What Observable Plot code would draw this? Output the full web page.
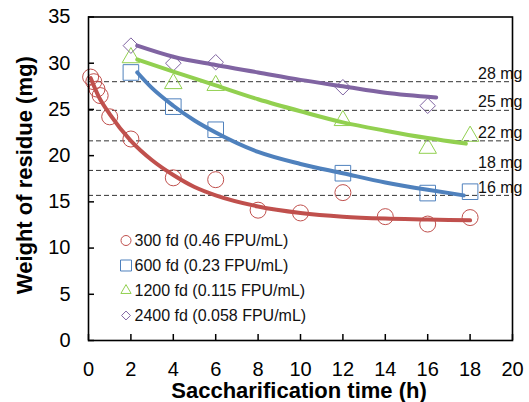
<!DOCTYPE html>
<html><head><meta charset="utf-8">
<script src="https://cdn.jsdelivr.net/npm/d3@7"></script>
<script src="https://cdn.jsdelivr.net/npm/@observablehq/plot@0.6"></script>
<style>body{margin:0;background:#fff}</style>
</head><body><div id="chart"></div>
<script>
// ---- data ----
const seriesNames = ["300 fd (0.46 FPU/mL)", "600 fd (0.23 FPU/mL)", "1200 fd (0.115 FPU/mL)", "2400 fd (0.058 FPU/mL)"];
const seriesColors = ["#C0504D", "#4F81BD", "#92D050", "#8064A2"];
const seriesSymbols = ["circle", "square", "triangle", "diamond2"];

// measured points
const time300 = [0.1, 0.25, 0.4, 0.55, 1, 2, 4, 6, 8, 10, 12, 14, 16, 18];
const residue300 = [28.5, 28.0, 27.2, 26.5, 24.2, 21.8, 17.6, 17.4, 14.1, 13.8, 16.0, 13.4, 12.6, 13.3];
const time600 = [2, 4, 6, 12, 16, 18];
const residue600 = [29.0, 25.3, 22.8, 18.1, 15.95, 16.1];
const time1200 = [2, 4, 6, 12, 16, 18];
const residue1200 = [30.6, 27.8, 27.6, 23.8, 20.8, 22.1];
const time2400 = [2, 4, 6, 12, 16];
const residue2400 = [31.9, 30.0, 30.1, 27.4, 25.4];

// fitted curves
const fitTime300 = [0.1, 0.5, 1, 2, 3, 4, 5, 6, 8, 10, 12, 14, 16, 18];
const fitResidue300 = [28.4, 26.3, 24.5, 21.6, 19.5, 17.9, 16.6, 15.7, 14.5, 13.8, 13.4, 13.2, 13.1, 13.0];
const fitTime600 = [2.3, 3, 4, 5, 6, 8, 10, 12, 14, 16, 17.7];
const fitResidue600 = [29.0, 27.3, 25.4, 23.8, 22.5, 20.4, 19.1, 18.1, 17.1, 16.3, 15.7];
const fitTime1200 = [2.3, 4, 6, 8, 10, 12, 14, 16, 17.8];
const fitResidue1200 = [30.4, 29.1, 27.6, 26.1, 24.8, 23.6, 22.7, 21.9, 21.3];
const fitTime2400 = [2.3, 4, 6, 8, 10, 12, 14, 16.4];
const fitResidue2400 = [31.9, 30.7, 29.8, 29.0, 28.2, 27.5, 26.8, 26.3];

// reference lines
const refValues = [28, 24.9, 21.6, 18.4, 15.7];
const refLabels = ["28 mg", "25 mg", "22 mg", "18 mg", "16 mg"];

const xTicks = [0, 2, 4, 6, 8, 10, 12, 14, 16, 18, 20];
const yTicks = [0, 5, 10, 15, 20, 25, 30, 35];
const xTitle = "Saccharification time (h)";
const yTitle = "Weight of residue (mg)";

// ---- build ----
const times = [time300, time600, time1200, time2400];
const residues = [residue300, residue600, residue1200, residue2400];
const fitTimes = [fitTime300, fitTime600, fitTime1200, fitTime2400];
const fitResidues = [fitResidue300, fitResidue600, fitResidue1200, fitResidue2400];
const markerR = [8, 8.8, 6.5, 7];
const legendR = [5, 6.2, 3.8, 4];

const W = 529, H = 402, mL = 88, mR = 17, mT = 16.5, mB = 62;
const innerW = W - mL - mR, innerH = H - mT - mB;

const marks = [];
marks.push(Plot.ruleY(refValues, {y: d => d, stroke: "#333", strokeWidth: 1, strokeDasharray: "5,3"}));
marks.push(Plot.text(refValues, {y: d => d, text: (d, i) => refLabels[i], frameAnchor: "right", textAnchor: "end", lineAnchor: "middle", dx: 10, dy: -8, fontSize: 16, fill: "#111"}));

seriesNames.forEach((name, s) => {
  const pts = times[s].map((t, i) => ({time: t, residue: residues[s][i]}));
  marks.push(Plot.dot(pts, {x: "time", y: "residue", symbol: seriesSymbols[s], r: markerR[s], stroke: seriesColors[s], strokeWidth: 1, fill: "none"}));
});
seriesNames.forEach((name, s) => {
  const fit = fitTimes[s].map((t, i) => ({time: t, residue: fitResidues[s][i]}));
  marks.push(Plot.line(fit, {x: "time", y: "residue", stroke: seriesColors[s], strokeWidth: 4, curve: "monotone-x", strokeLinecap: "round"}));
});

// legend inside the plot
seriesNames.forEach((name, s) => {
  marks.push(Plot.dot([name], {frameAnchor: "top-left", dx: 37.5, dy: 223.5 + 25 * s, symbol: seriesSymbols[s], r: legendR[s], stroke: seriesColors[s], strokeWidth: 1, fill: "none"}));
  marks.push(Plot.text([name], {text: d => d, frameAnchor: "top-left", dx: 46, dy: 224 + 25 * s, textAnchor: "start", lineAnchor: "middle", fontSize: 16, fill: "#111"}));
});

// frame, inward ticks, axes
marks.push(Plot.frame({stroke: "black", strokeWidth: 1.6}));
marks.push(Plot.tickY(yTicks, {y: d => d, stroke: "black", strokeWidth: 1.5, insetRight: innerW - 6}));
marks.push(Plot.tickX(xTicks, {x: d => d, stroke: "black", strokeWidth: 1.5, insetTop: innerH - 6}));
marks.push(Plot.axisY({ticks: yTicks, tickSize: 0, tickPadding: 18, fontSize: 20, label: null}));
marks.push(Plot.axisX({ticks: xTicks, tickSize: 0, tickPadding: 21, fontSize: 20, label: null}));
marks.push(Plot.text([xTitle], {text: d => d, frameAnchor: "bottom", textAnchor: "middle", lineAnchor: "middle", dy: 50, dx: -1.5, fontSize: 22, fontWeight: "bold", fill: "black"}));
marks.push(Plot.text([yTitle], {text: d => d, frameAnchor: "left", textAnchor: "middle", lineAnchor: "middle", dx: -64, dy: -3.5, rotate: -90, fontSize: 22, fontWeight: "bold", fill: "black"}));

const chart = Plot.plot({
  width: W, height: H,
  marginLeft: mL, marginRight: mR, marginTop: mT, marginBottom: mB,
  x: {domain: [0, 20]},
  y: {domain: [0, 35]},
  style: {fontFamily: "'Liberation Sans', Arial, sans-serif", background: "white", color: "black", overflow: "visible"},
  marks
});
document.getElementById("chart").appendChild(chart);
</script></body></html>
